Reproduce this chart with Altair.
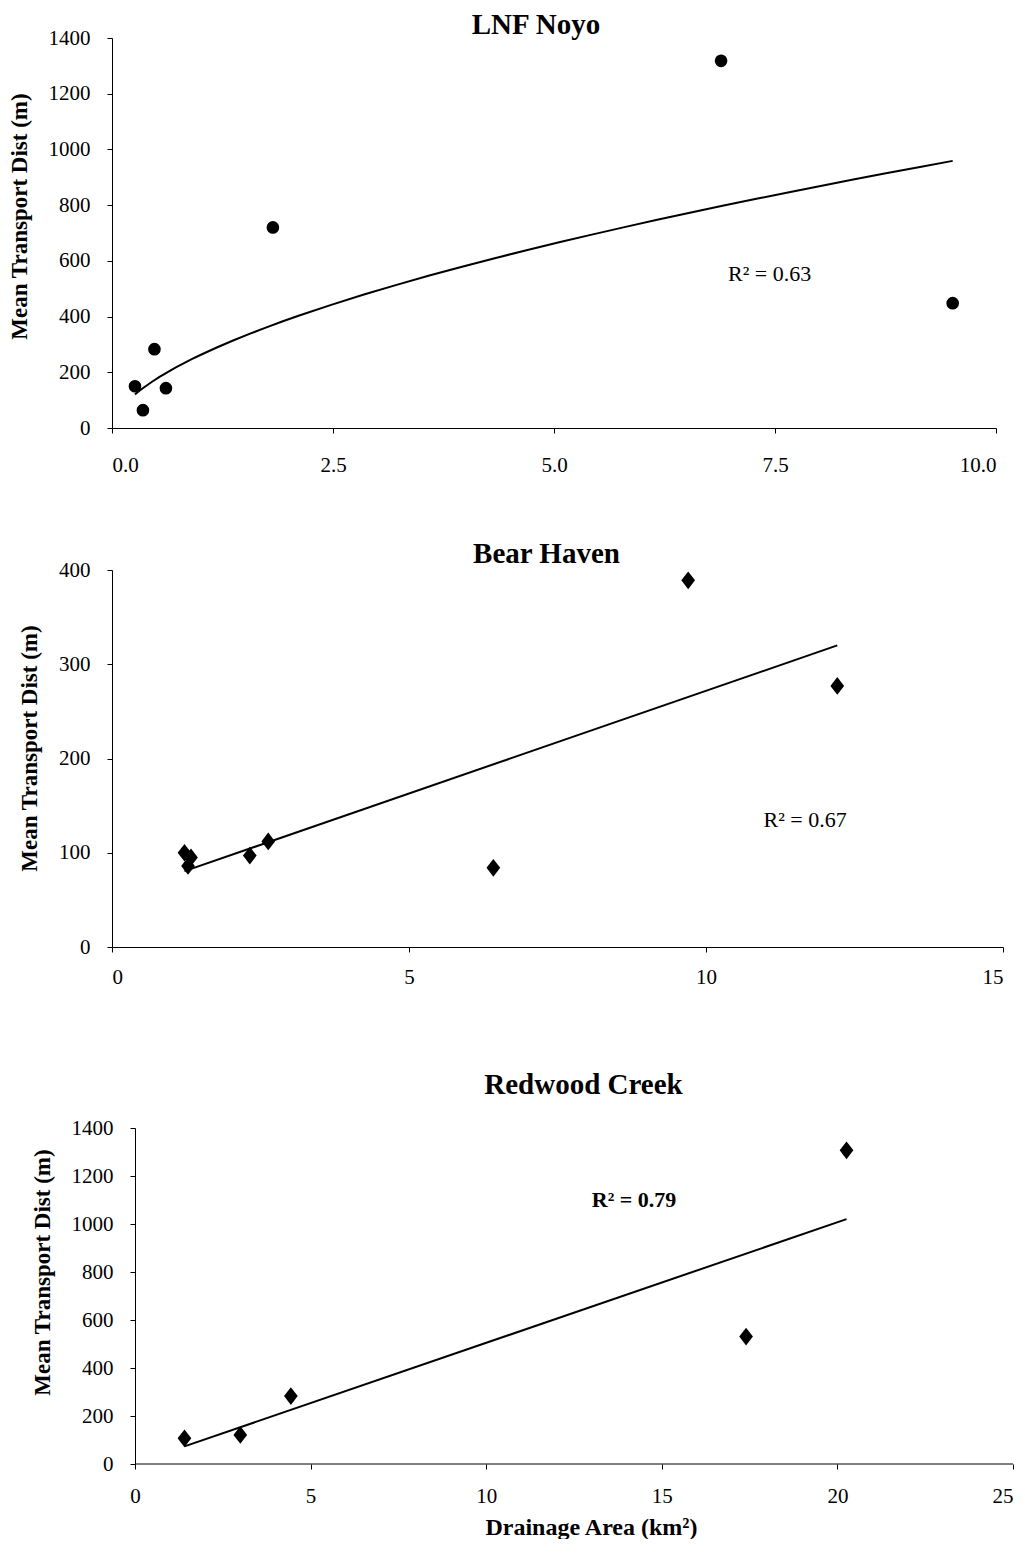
import altair as alt
import pandas as pd

FONT = "Liberation Serif"

# ---- data ----
noyo_area = [0.26, 0.35, 0.48, 0.61, 1.82, 6.89, 9.51]
noyo_dist = [150, 64, 283, 143, 720, 1318, 448]

bear_area = [1.22, 1.33, 1.28, 2.32, 2.63, 6.42, 9.70, 12.21]
bear_dist = [100, 95, 86, 97, 112, 84, 389, 277]

red_area = [1.41, 3.00, 4.44, 17.40, 20.26]
red_dist = [107, 121, 283, 531, 1307]

noyo_xticks = [0.0, 2.5, 5.0, 7.5, 10.0]
noyo_yticks = [0, 200, 400, 600, 800, 1000, 1200, 1400]
bear_xticks = [0, 5, 10, 15]
bear_yticks = [0, 100, 200, 300, 400]
red_xticks = [0, 5, 10, 15, 20, 25]
red_yticks = [0, 200, 400, 600, 800, 1000, 1200, 1400]

noyo_r2 = "R² = 0.63"
bear_r2 = "R² = 0.67"
red_r2 = "R² = 0.79"
noyo_r2_at = [7.44, 553]
bear_r2_at = [11.67, 135]
red_r2_at = [14.21, 1101]

YTITLE = "Mean Transport Dist (m)"
diamond = "M0,-1.1L0.85,0L0,1.1L-0.85,0Z"


def panel(title, area, dist, method, xticks, xdom, yticks, ydom, xfmt,
          width, height, r2, r2_at, r2_bold, shape, size,
          title_dx, title_offset, ytitle_y, xlabel_pad,
          yaxis_offset=0, xtitle=None, xtitle_x=None, bottom_extra=None):
    df = pd.DataFrame({"area": area, "dist": dist})
    xaxis_kw = dict(values=xticks, format=xfmt, tickSize=5, labelPadding=xlabel_pad,
                    labelFont=FONT, labelFontSize=21, grid=False,
                    domain=(yaxis_offset == 0))
    if xtitle is not None:
        xaxis_kw.update(title=xtitle, titleFont=FONT, titleFontSize=24,
                        titleFontWeight="bold", titlePadding=9)
        if xtitle_x is not None:
            xaxis_kw.update(titleX=xtitle_x)
    elif bottom_extra is not None:
        xaxis_kw.update(title=" ", titleFontSize=2, titlePadding=bottom_extra)
    else:
        xaxis_kw.update(title=None)
    x = alt.X("area:Q", scale=alt.Scale(domain=xdom, nice=False, zero=False),
              axis=alt.Axis(**xaxis_kw))
    y = alt.Y("dist:Q", scale=alt.Scale(domain=ydom, nice=False, zero=False),
              axis=alt.Axis(values=yticks, format="d", tickSize=5, labelPadding=17,
                            labelFont=FONT, labelFontSize=21, grid=False,
                            offset=yaxis_offset,
                            title=YTITLE, titleFont=FONT, titleFontSize=23,
                            titleFontWeight="bold", titlePadding=17,
                            titleY=ytitle_y))
    pts = alt.Chart(df).mark_point(filled=True, color="black", opacity=1,
                                   shape=shape, size=size).encode(x=x, y=y)
    line = alt.Chart(df).transform_regression(
        "area", "dist", method=method).mark_line(
        color="black", strokeWidth=2).encode(x=x, y=y)
    ann = alt.Chart(pd.DataFrame({"area": [r2_at[0]], "dist": [r2_at[1]],
                                  "t": [r2]})).mark_text(
        font=FONT, fontSize=22, fontWeight="bold" if r2_bold else "normal",
        color="black", align="center", baseline="middle").encode(
        x=x, y=y, text="t:N")
    layers = [line, pts, ann]
    if yaxis_offset != 0:
        base = alt.Chart(pd.DataFrame({"area": [xticks[0]], "a2": [xticks[-1]],
                                       "dist": [ydom[0]]})).mark_rule(
            color="black", strokeWidth=1).encode(x=x, x2="a2:Q", y=y)
        layers = [base] + layers
    return alt.layer(*layers).properties(
        width=width, height=height,
        title=alt.TitleParams(title, font=FONT, fontSize=29, fontWeight="bold",
                              anchor="middle", dx=title_dx, offset=title_offset,
                              baseline="alphabetic", color="black"))


p1 = panel("LNF Noyo", noyo_area, noyo_dist, "pow", noyo_xticks, [0, 10],
           noyo_yticks, [0, 1400], ".1f", 884, 390, noyo_r2, noyo_r2_at, False,
           "circle", 160, -18, -36, 178, 21)
p2 = panel("Bear Haven", bear_area, bear_dist, "linear", bear_xticks, [0, 15],
           bear_yticks, [0, 400], "d", 891, 377, bear_r2, bear_r2_at, False,
           diamond, 260, -11, -33, 178, 14, bottom_extra=17)
p3 = panel("Redwood Creek", red_area, red_dist, "linear", red_xticks, [-0.653, 25],
           red_yticks, [0, 1400], "d", 901, 336, red_r2, red_r2_at, True,
           diamond, 260, 21, -6, 144, 16, yaxis_offset=-23,
           xtitle="Drainage Area (km²)", xtitle_x=479)

chart = alt.vconcat(p1, p2, p3, spacing=65).properties(
    padding={"left": 0, "top": 3, "right": 0, "bottom": 0},
    background="white"
).configure_view(stroke="transparent", strokeWidth=0).configure_axis(
    domainColor="black", tickColor="black", labelColor="black", titleColor="black",
    domainWidth=1, tickWidth=1
)

chart.save("out.html", embed_options={"renderer": "svg", "actions": False})
